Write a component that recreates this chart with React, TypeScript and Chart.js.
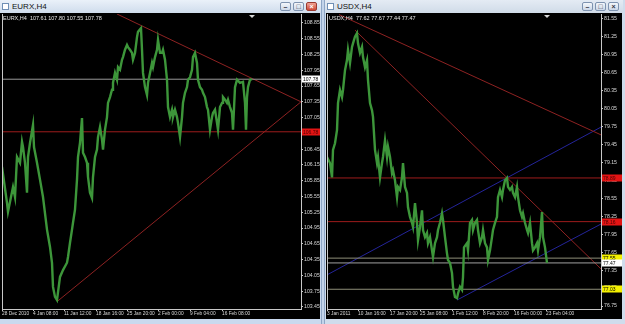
import React, { useEffect, useRef } from 'react';
import { Chart, registerables } from 'chart.js';
Chart.register(...registerables);

// ---------------- EURX, H4 ----------------
const eurBar = [0,5,6,11,13,15,18,20,21,23,25,26,28,31,32,35,38,41,45,48,50,51,53,55,58,61,65,66,68,70,71,73,75,76,78,80,81,83,85,86,88,90,91,93,95,96,98,100,101,103,105,106,108,110,111,113,115,116,118,120,121,123,125,126,128,130,131,133,135,136,139,140,141,143,145,146,148,150,151,153,155,156,158,160,161,163,165,166,168,170,171,173,175,176,178,180,181,183,185,186,188,190,191,193,195,196,198,200,201,203,205,206,208,210,211,213,215,216,218,220,221,223,225,226,228,230,231,233,235,238,241,243,244,245,246,248,250];
const eurClose = [106.11,105.43,105.26,105.73,105.54,106.30,106.19,106.59,106.49,106.19,105.62,106.30,106.57,106.91,106.49,106.19,105.87,105.54,104.92,104.59,104.29,103.83,103.64,103.58,104.02,104.15,104.29,104.40,104.67,104.92,105.05,105.30,105.87,106.30,106.57,107.04,106.38,106.30,106.19,105.92,105.62,105.52,105.92,106.30,106.44,106.68,106.87,106.63,106.44,106.82,107.06,107.33,107.44,107.58,107.71,107.90,107.77,108.01,107.96,108.15,108.20,108.34,108.43,108.39,108.34,108.28,108.15,108.28,108.58,108.68,108.75,108.34,107.90,107.63,107.48,107.71,107.90,108.09,108.01,108.20,108.34,108.53,108.28,108.28,108.34,108.15,107.77,107.25,107.06,107.20,107.06,107.20,107.06,106.95,106.68,107.06,107.33,107.52,107.63,107.77,107.82,107.96,108.20,108.28,108.09,107.77,107.63,107.58,107.52,107.44,107.25,107.20,106.82,107.06,107.14,107.20,106.95,106.82,107.25,107.33,107.44,107.39,107.33,107.39,107.25,107.14,106.82,107.63,107.77,107.71,107.73,107.33,106.82,107.44,107.63,107.77,107.78];
const eurPriceTicks = [108.85,108.55,108.25,107.95,107.65,107.35,107.05,106.75,106.45,106.15,105.85,105.55,105.25,104.95,104.65,104.35,104.05,103.75,103.45];
const eurDateBars = [0,31,62,94,125,156,188,220];
const eurDateLabels = ['28 Dec 2010','4 Jan 08:00','11 Jan 12:00','18 Jan 16:00','25 Jan 20:00','2 Feb 00:00','9 Feb 04:00','16 Feb 08:00'];
const eurResistBars = [115, 299];
const eurResistPrices = [109.02, 107.35];
const eurSupportBars = [55, 299];
const eurSupportPrices = [103.55, 107.35];
const eurRedLevels = [106.78];
const eurBid = 107.78;
const eurHeader = 'EURX,H4  107.61 107.80 107.55 107.78';

// ---------------- USDX, H4 ----------------
const usdBar = [0,3,5,6,8,10,11,13,15,16,18,20,21,23,25,26,28,30,31,33,35,36,38,40,41,43,45,46,48,50,51,53,55,56,58,60,61,63,65,66,68,70,71,73,75,76,78,80,81,83,85,86,88,90,91,93,95,96,98,100,101,103,105,106,108,110,111,113,115,116,118,120,121,123,125,126,128,130,131,133,135,136,137,140,141,143,145,146,148,150,151,153,155,156,158,160,161,163,165,166,168,170,171,173,175,176,178,180,181,183,185,186,188,190,191,193,195,196,198,200,201,203,205,206,208,210,211,213,215,216,218,220];
const usdClose = [79.24,79.14,78.90,79.36,79.47,79.69,80.14,80.36,80.24,80.36,80.69,80.86,81.03,80.81,81.08,81.14,81.25,81.31,81.14,80.98,81.08,80.91,80.74,80.86,80.53,80.14,80.02,79.91,79.36,79.14,79.24,78.90,79.14,79.24,79.52,79.24,79.41,79.24,78.97,79.02,78.85,78.57,78.74,78.69,78.90,79.14,78.74,78.64,78.40,78.24,78.14,78.07,78.47,78.14,77.85,78.07,78.35,78.02,77.90,77.97,77.80,77.90,77.68,77.57,77.80,77.90,78.02,78.14,78.30,78.19,77.90,77.63,77.52,77.47,77.30,77.07,76.90,76.88,76.96,77.07,77.02,77.23,77.73,77.80,77.68,78.14,78.19,78.02,78.14,78.19,78.02,77.80,77.90,78.02,77.80,77.73,77.52,77.68,77.90,78.02,78.14,78.24,78.57,78.69,78.57,78.69,78.85,78.89,78.74,78.69,78.74,78.64,78.57,78.74,78.57,78.35,78.24,78.30,78.14,78.02,77.97,78.14,77.80,77.68,77.73,77.80,77.68,77.90,78.32,77.90,77.73,77.47];
const usdPriceTicks = [81.55,81.25,80.95,80.65,80.35,80.05,79.75,79.45,79.15,78.85,78.55,78.25,77.95,77.65,77.35,77.05,76.75];
const usdDateBars = [0,31,63,93,125,156,187,219];
const usdDateLabels = ['3 Jan 2011','10 Jan 16:00','17 Jan 20:00','25 Jan 08:00','1 Feb 12:00','8 Feb 20:00','16 Feb 00:00','23 Feb 04:00'];
const usdUpperRedBars = [12, 274];
const usdUpperRedPrices = [81.62, 79.61];
const usdSteepRedBars = [28, 274];
const usdSteepRedPrices = [81.36, 77.37];
const usdUpperBlueBars = [0, 274];
const usdUpperBluePrices = [77.27, 79.74];
const usdLowerBlueBars = [130, 274];
const usdLowerBluePrices = [76.85, 78.12];
const usdRedLevels = [78.89, 78.16];
const usdYellowLevels = [77.55, 77.03];
const usdBid = 77.47;
const usdHeader = 'USDX,H4  77.62 77.67 77.44 77.47';

const FONT = "'Liberation Sans', Arial, sans-serif";
const GREEN = '#3d963a';
const TREND_RED = '#8e2222';
const LEVEL_RED = '#9e1c1c';
const BLUE = '#24249a';
const AXIS = '#c8c8c8';

type Seg = { x: number[]; y: number[]; color: string };
type Mark = { value: number; bg: string; fg: string };

type Spec = {
  bars: number[]; close: number[]; xMax: number; yMin: number; yMax: number;
  priceTicks: number[]; dateBars: number[]; dateLabels: string[];
  segs: Seg[]; levels: { value: number; color: string }[]; marks: Mark[];
  axisWidth: number; padLeft: number;
};

function buildConfig(s: Spec): any {
  const lastBar = s.bars[s.bars.length - 1];
  const datasets: any[] = [
    {
      data: s.bars.map((b, i) => ({ x: b, y: s.close[i] })),
      borderColor: GREEN, borderWidth: 2.4, pointRadius: 0, tension: 0,
    },
  ];
  s.levels.forEach((l) => {
    datasets.push({
      data: [{ x: 0, y: l.value }, { x: s.xMax, y: l.value }],
      borderColor: l.color, borderWidth: 1, pointRadius: 0,
    });
  });
  s.segs.forEach((g) => {
    datasets.push({
      data: g.x.map((b, i) => ({ x: b, y: g.y[i] })),
      borderColor: g.color, borderWidth: 1, pointRadius: 0,
    });
  });
  const overlay = {
    id: 'mtOverlay',
    afterDraw(chart: any) {
      const { ctx, chartArea } = chart;
      const xs = chart.scales.x;
      const ys = chart.scales.y;
      ctx.save();
      ctx.strokeStyle = AXIS;
      ctx.lineWidth = 1;
      ctx.beginPath();
      ctx.moveTo(chartArea.left + 0.5, chartArea.top);
      ctx.lineTo(chartArea.left + 0.5, chartArea.bottom);
      ctx.stroke();
      const px = xs.getPixelForValue(lastBar);
      ctx.fillStyle = '#d8d8d8';
      ctx.beginPath();
      ctx.moveTo(px - 3, chartArea.top + 1);
      ctx.lineTo(px + 3, chartArea.top + 1);
      ctx.lineTo(px, chartArea.top + 4);
      ctx.closePath();
      ctx.fill();
      ctx.font = `5px ${FONT}`;
      ctx.textBaseline = 'middle';
      s.marks.forEach((m) => {
        const py = ys.getPixelForValue(m.value);
        ctx.fillStyle = m.bg;
        ctx.fillRect(ys.left + 1, Math.round(py) - 3.5, chart.width - ys.left - 1, 7);
        ctx.fillStyle = m.fg;
        ctx.fillText(m.value.toFixed(2), ys.left + 2, py + 0.5);
      });
      ctx.restore();
    },
  };
  return {
    type: 'line',
    data: { datasets },
    plugins: [overlay],
    options: {
      animation: false,
      responsive: false,
      events: [],
      layout: { padding: { left: s.padLeft, top: 1, right: 0, bottom: 0 } },
      plugins: { legend: { display: false }, tooltip: { enabled: false } },
      scales: {
        x: {
          type: 'linear', min: 0, max: s.xMax,
          afterBuildTicks: (a: any) => { a.ticks = s.dateBars.map((v) => ({ value: v })); },
          afterFit: (a: any) => { a.height = 10; a.paddingLeft = 0; a.paddingRight = 0; },
          ticks: {
            autoSkip: false, maxRotation: 0, align: 'start', padding: 0,
            color: '#d8d8d8', font: { family: FONT, size: 4.8 },
            callback: (_v: any, i: number) => s.dateLabels[i],
          },
          grid: { drawOnChartArea: false, tickLength: 2, color: AXIS },
          border: { color: AXIS },
        },
        y: {
          type: 'linear', position: 'right', min: s.yMin, max: s.yMax,
          afterBuildTicks: (a: any) => { a.ticks = s.priceTicks.map((v) => ({ value: v })); },
          afterFit: (a: any) => { a.width = s.axisWidth; a.paddingTop = 0; a.paddingBottom = 0; },
          ticks: {
            padding: 1, color: '#d8d8d8', font: { family: FONT, size: 5.2 },
            callback: (v: any) => Number(v).toFixed(2),
          },
          grid: { drawOnChartArea: false, tickLength: 2, color: AXIS },
          border: { color: AXIS },
        },
      },
    },
  };
}

function MtChart({ spec, left, width, header }: { spec: Spec; left: number; width: number; header: string }) {
  const ref = useRef<HTMLCanvasElement | null>(null);
  useEffect(() => {
    if (!ref.current) return;
    const c = new Chart(ref.current, buildConfig(spec));
    return () => c.destroy();
  }, []);
  return (
    <>
      <canvas ref={ref} width={width} height={306}
        style={{ position: 'absolute', left, top: 13, width, height: 306, background: '#000', display: 'block' }} />
      <div style={{ position: 'absolute', left: left + 3, top: 14, color: '#e8e8e8', font: `5.5px ${FONT}`, whiteSpace: 'pre', lineHeight: '8px' }}>{header}</div>
    </>
  );
}

function Btn({ left, kind, red }: { left: number; kind: string; red?: boolean }) {
  return (
    <div style={{
      position: 'absolute', left, top: 2, width: 11, height: 9, boxSizing: 'border-box',
      border: red ? '1px solid #9b3a30' : '1px solid #7e93b0', borderRadius: 2,
      background: red ? 'linear-gradient(#f0a496,#cf4a37)' : 'linear-gradient(#f4f7fb,#ccd8e8)',
      color: red ? '#fff' : '#334', font: `bold 7px ${FONT}`, textAlign: 'center', lineHeight: '7px',
    }}>{kind}</div>
  );
}

function TitleBar({ left, width, title, active }: { left: number; width: number; title: string; active: boolean }) {
  return (
    <div style={{ position: 'absolute', left, top: 0, width, height: 13, background: active ? 'linear-gradient(#eaf1f9,#cfdcec)' : 'linear-gradient(#e4ebf4,#d0dbe8)' }}>
      <div style={{ position: 'absolute', left: 2, top: 3, width: 7, height: 7, border: '1px solid #6f8fb5', boxSizing: 'border-box', background: '#fff' }} />
      <div style={{ position: 'absolute', left: 12, top: 1, font: `8px ${FONT}`, color: '#111', lineHeight: '11px' }}>{title}</div>
      <Btn left={width - 41} kind="–" />
      <Btn left={width - 28} kind="□" />
      <Btn left={width - 15} kind="×" red={active} />
    </div>
  );
}

const eurSpec: Spec = {
  bars: eurBar, close: eurClose, xMax: 299, yMin: 103.41, yMax: 109.02,
  priceTicks: eurPriceTicks, dateBars: eurDateBars, dateLabels: eurDateLabels,
  segs: [
    { x: eurResistBars, y: eurResistPrices, color: TREND_RED },
    { x: eurSupportBars, y: eurSupportPrices, color: TREND_RED },
  ],
  levels: [
    { value: eurBid, color: '#9a9a9a' },
    ...eurRedLevels.map((v) => ({ value: v, color: LEVEL_RED })),
  ],
  marks: [
    { value: eurBid, bg: '#ffffff', fg: '#000' },
    ...eurRedLevels.map((v) => ({ value: v, bg: '#e31414', fg: '#4a0000' })),
  ],
  axisWidth: 19, padLeft: 2,
};

const usdSpec: Spec = {
  bars: usdBar, close: usdClose, xMax: 274, yMin: 76.70, yMax: 81.63,
  priceTicks: usdPriceTicks, dateBars: usdDateBars, dateLabels: usdDateLabels,
  segs: [
    { x: usdUpperRedBars, y: usdUpperRedPrices, color: TREND_RED },
    { x: usdSteepRedBars, y: usdSteepRedPrices, color: TREND_RED },
    { x: usdUpperBlueBars, y: usdUpperBluePrices, color: BLUE },
    { x: usdLowerBlueBars, y: usdLowerBluePrices, color: BLUE },
  ],
  levels: [
    ...usdRedLevels.map((v) => ({ value: v, color: LEVEL_RED })),
    ...usdYellowLevels.map((v) => ({ value: v, color: '#8e8e78' })),
    { value: usdBid, color: '#a0a0a0' },
  ],
  marks: [
    ...usdRedLevels.map((v) => ({ value: v, bg: '#e31414', fg: '#4a0000' })),
    ...usdYellowLevels.map((v) => ({ value: v, bg: '#f4f000', fg: '#000' })),
    { value: usdBid, bg: '#ffffff', fg: '#000' },
  ],
  axisWidth: 21, padLeft: 1,
};

export default function App() {
  return (
    <div style={{ position: 'fixed', left: 0, top: 0, width: 625, height: 324, overflow: 'hidden', background: '#c3d4ea' }}>
      <div style={{ position: 'absolute', left: 0, top: 0, width: 322, height: 324, background: '#c9d9ee', borderRight: '1px solid #8ea6c6', boxSizing: 'border-box' }} />
      <div style={{ position: 'absolute', left: 324, top: 0, width: 301, height: 324, background: '#cfdcec', borderLeft: '1px solid #8ea6c6', boxSizing: 'border-box' }} />
      <TitleBar left={0} width={321} title="EURX,H4" active={true} />
      <TitleBar left={325} width={298} title="USDX,H4" active={false} />
      <MtChart spec={eurSpec} left={0} width={320} header={eurHeader} />
      <MtChart spec={usdSpec} left={326} width={296} header={usdHeader} />
    </div>
  );
}
